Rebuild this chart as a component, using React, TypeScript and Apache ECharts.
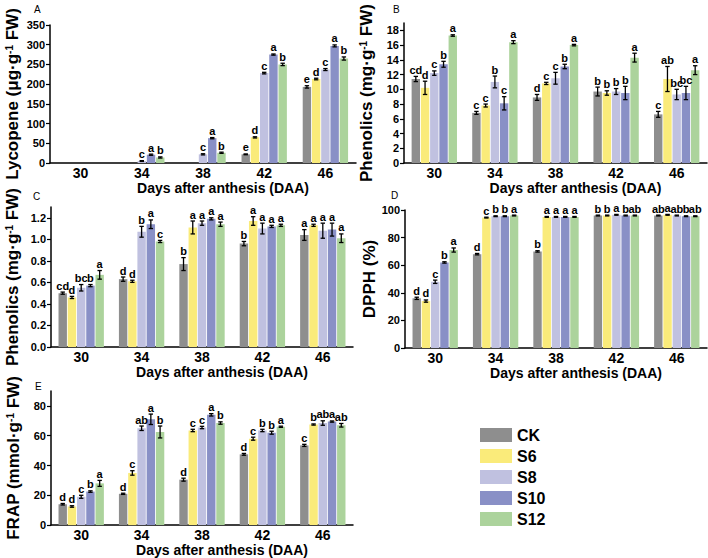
import React, { useEffect, useRef } from 'react';
import * as echarts from 'echarts';

const FONT = 'Arial, "Liberation Sans", Helvetica, sans-serif';

const categories = ['30', '34', '38', '42', '46'];
const treatments = ['CK', 'S6', 'S8', 'S10', 'S12'];
const colors = ['#8e8e8e', '#faeb7a', '#c0c1e0', '#8990c6', '#acd39c'];

// Panel A: Lycopene (rows = CK, S6, S8, S10, S12)
const lycopeneValues = [
  [0, 0, 0, 22, 193],
  [0, 0, 0, 65, 213],
  [0, 5, 22, 228, 237],
  [0, 21, 63, 275, 297],
  [0, 14, 26, 250, 265],
];
const lycopeneErrors = [
  [0, 0, 0, 1, 3],
  [0, 0, 0, 1.5, 2],
  [0, 1, 1.5, 2, 2.5],
  [0, 1.5, 1.5, 1.5, 2.5],
  [0, 1.5, 1.5, 3, 4],
];
const lycopeneLetters = [
  ['', '', '', 'e', 'e'],
  ['', '', '', 'd', 'd'],
  ['', 'c', 'c', 'c', 'c'],
  ['', 'a', 'a', 'a', 'a'],
  ['', 'b', 'b', 'b', 'b'],
];

// Panel B: Phenolics (mg/g FW)
const phenolicsBValues = [
  [11.4, 6.8, 8.9, 9.7, 6.6],
  [10.2, 7.8, 10.8, 9.5, 11.4],
  [12.2, 11.0, 11.5, 9.7, 9.3],
  [13.4, 8.1, 13.1, 9.5, 9.5],
  [17.3, 16.4, 16.0, 14.3, 12.6],
];
const phenolicsBErrors = [
  [0.35, 0.2, 0.4, 0.6, 0.4],
  [0.9, 0.2, 0.15, 0.3, 1.7],
  [0.3, 0.8, 0.8, 0.4, 0.7],
  [0.4, 0.9, 0.3, 0.9, 0.9],
  [0.1, 0.2, 0.1, 0.6, 0.6],
];
const phenolicsBLetters = [
  ['cd', 'c', 'd', 'b', 'c'],
  ['d', 'c', 'c', 'b', 'ab'],
  ['c', 'b', 'c', 'b', 'bc'],
  ['b', 'c', 'b', 'b', 'bc'],
  ['a', 'a', 'a', 'a', 'a'],
];

// Panel C: Phenolics (second measure)
const phenolicsCValues = [
  [0.50, 0.63, 0.77, 0.96, 1.04],
  [0.46, 0.61, 1.11, 1.17, 1.13],
  [0.55, 1.07, 1.15, 1.10, 1.08],
  [0.57, 1.14, 1.19, 1.12, 1.09],
  [0.67, 0.98, 1.14, 1.13, 1.01],
];
const phenolicsCErrors = [
  [0.01, 0.02, 0.06, 0.02, 0.05],
  [0.01, 0.01, 0.06, 0.04, 0.01],
  [0.03, 0.05, 0.02, 0.05, 0.07],
  [0.01, 0.04, 0.01, 0.01, 0.06],
  [0.04, 0.01, 0.02, 0.01, 0.04],
];
const phenolicsCLetters = [
  ['cd', 'd', 'b', 'b', 'a'],
  ['d', 'd', 'a', 'a', 'a'],
  ['bc', 'b', 'a', 'a', 'a'],
  ['b', 'a', 'a', 'a', 'a'],
  ['a', 'c', 'a', 'a', 'a'],
];

// Panel D: DPPH (%)
const dpphValues = [
  [36, 68, 70, 96, 96],
  [34, 94.5, 95, 96, 96.5],
  [48, 95.5, 95, 96.5, 96],
  [62, 95.5, 95, 96, 95.5],
  [71, 96, 95, 96, 95.5],
];
const dpphErrors = [
  [0.8, 0.5, 0.5, 0.3, 0.3],
  [0.8, 0.3, 0.3, 0.3, 0.3],
  [1.2, 0.3, 0.3, 0.3, 0.3],
  [0.5, 0.3, 0.3, 0.3, 0.3],
  [1.5, 0.3, 0.3, 0.3, 0.3],
];
const dpphLetters = [
  ['d', 'd', 'b', 'b', 'ab'],
  ['d', 'c', 'a', 'b', 'a'],
  ['c', 'b', 'a', 'a', 'ab'],
  ['b', 'b', 'a', 'b', 'b'],
  ['a', 'a', 'a', 'ab', 'ab'],
];

// Panel E: FRAP (mmol/g FW)
const frapValues = [
  [14, 21, 30.5, 47.5, 53.5],
  [12.5, 35, 63.5, 58, 67.5],
  [19, 65, 65.5, 63.5, 68.5],
  [22.5, 71, 74, 62, 69.5],
  [28, 62.5, 68.5, 66, 67],
];
const frapErrors = [
  [0.5, 0.4, 1, 0.6, 0.7],
  [0.5, 1.5, 0.8, 1, 0.4],
  [1, 1.5, 0.8, 0.8, 1.5],
  [0.5, 3.5, 0.8, 1, 0.4],
  [2, 4, 0.8, 0.4, 1.2],
];
const frapLetters = [
  ['d', 'd', 'd', 'd', 'c'],
  ['d', 'c', 'c', 'c', 'b'],
  ['c', 'ab', 'c', 'b', 'ab'],
  ['b', 'a', 'a', 'b', 'a'],
  ['a', 'b', 'b', 'a', 'ab'],
];

const BAR_W = 8.4;
const BAR_GAP = 0.1;
const STEP = BAR_W * (1 + BAR_GAP);

const panels = [
  {
    letter: 'A', lx: 34, ly: 4,
    values: lycopeneValues, errors: lycopeneErrors, letters: lycopeneLetters,
    grid: { left: 50, top: 25, width: 306, height: 138 },
    max: 350, interval: 50, showMax: true, decimals: 0,
    name: '{t|Lycopene (μg·g}{s|-1}{t| FW)}', nameGap: 29,
  },
  {
    letter: 'B', lx: 393, ly: 4,
    values: phenolicsBValues, errors: phenolicsBErrors, letters: phenolicsBLetters,
    grid: { left: 404, top: 23, width: 303, height: 140 },
    max: 19, interval: 2, showMax: false, decimals: 0,
    name: '{t|Phenolics (mg·g}{s|-1}{t| FW)}', nameGap: 29,
  },
  {
    letter: 'C', lx: 33, ly: 191,
    values: phenolicsCValues, errors: phenolicsCErrors, letters: phenolicsCLetters,
    grid: { left: 51, top: 207, width: 302, height: 140 },
    max: 1.3, interval: 0.2, showMax: false, decimals: 1,
    name: '{t|Phenolics (mg·g}{s|-1}{t| FW)}', nameGap: 30,
  },
  {
    letter: 'D', lx: 391, ly: 190,
    values: dpphValues, errors: dpphErrors, letters: dpphLetters,
    grid: { left: 405, top: 210, width: 302, height: 138 },
    max: 100, interval: 20, showMax: true, decimals: 0,
    name: '{t|DPPH (%)}', nameGap: 21,
  },
  {
    letter: 'E', lx: 35, ly: 381,
    values: frapValues, errors: frapErrors, letters: frapLetters,
    grid: { left: 51, top: 391, width: 302, height: 139 },
    max: 90, interval: 20, showMax: false, decimals: 0,
    name: '{t|FRAP (mmol·g}{s|-1}{t| FW)}', nameGap: 29,
  },
];

export default function App() {
  const ref = useRef<HTMLDivElement>(null);

  useEffect(() => {
    if (!ref.current) return;
    const chart = echarts.init(ref.current, undefined, { renderer: 'svg' });

    const grids: any[] = [];
    const xAxes: any[] = [];
    const yAxes: any[] = [];
    const series: any[] = [];
    const graphics: any[] = [];

    panels.forEach((p, pi) => {
      grids.push({ ...p.grid, containLabel: false });
      xAxes.push({
        type: 'category',
        gridIndex: pi,
        data: categories,
        axisLine: { show: true, lineStyle: { color: '#000', width: 1.5 } },
        axisTick: { show: false },
        axisLabel: { color: '#000', fontSize: 14, fontWeight: 'bold', fontFamily: FONT, margin: 3 },
        name: 'Days after anthesis (DAA)',
        nameLocation: 'middle',
        nameGap: 14,
        nameTextStyle: { color: '#000', fontSize: 14, fontWeight: 'bold', fontFamily: FONT, padding: [0, 0, 0, 40] },
      });
      yAxes.push({
        type: 'value',
        gridIndex: pi,
        min: 0,
        max: p.max,
        interval: p.interval,
        splitLine: { show: false },
        axisLine: { show: true, lineStyle: { color: '#000', width: 1.5 } },
        axisTick: { show: true, length: 4, lineStyle: { color: '#000', width: 1.2 } },
        axisLabel: {
          color: '#000', fontSize: 11, fontWeight: 'bold', fontFamily: FONT, margin: 5,
          showMaxLabel: p.showMax,
          formatter: (v: number) => v.toFixed(p.decimals),
        },
        name: p.name,
        nameLocation: 'middle',
        nameGap: p.nameGap,
        nameTextStyle: {
          color: '#000',
          rich: {
            t: { fontSize: 17, fontWeight: 'bold', fontFamily: FONT, color: '#000' },
            s: { fontSize: 10, fontWeight: 'bold', fontFamily: FONT, color: '#000', verticalAlign: 'top' },
          },
        },
      });

      treatments.forEach((t, ti) => {
        series.push({
          type: 'bar',
          name: t,
          xAxisIndex: pi,
          yAxisIndex: pi,
          data: p.values[ti],
          barWidth: BAR_W,
          barGap: `${BAR_GAP * 100}%`,
          itemStyle: { color: colors[ti] },
          emphasis: { disabled: true },
        });
      });

      const items: any[] = [];
      treatments.forEach((t, ti) => {
        categories.forEach((c, ci) => {
          items.push({ t: ti, c: ci, v: p.values[ti][ci], e: p.errors[ti][ci], l: p.letters[ti][ci] });
        });
      });

      series.push({
        type: 'custom',
        xAxisIndex: pi,
        yAxisIndex: pi,
        silent: true,
        z: 5,
        data: items.map((it) => [it.c, it.v + it.e]),
        encode: { x: 0, y: 1 },
        renderItem: (params: any, api: any) => {
          const it = items[params.dataIndex];
          if (!it || it.v <= 0) return { type: 'group', children: [] };
          const top = api.coord([it.c, it.v + it.e]);
          const bot = api.coord([it.c, Math.max(0, it.v - it.e)]);
          const x = top[0] + (it.t - 2) * STEP;
          const capW = 2.2;
          const ls = { stroke: '#000', lineWidth: 1.3 };
          const children: any[] = [
            { type: 'line', shape: { x1: x, y1: top[1], x2: x, y2: bot[1] }, style: ls },
            { type: 'line', shape: { x1: x - capW, y1: top[1], x2: x + capW, y2: top[1] }, style: ls },
            { type: 'line', shape: { x1: x - capW, y1: bot[1], x2: x + capW, y2: bot[1] }, style: ls },
          ];
          if (it.l) {
            children.push({
              type: 'text',
              style: {
                text: it.l,
                x,
                y: top[1] - 1,
                align: 'center',
                verticalAlign: 'bottom',
                fontSize: 11,
                fontWeight: 'bold',
                fontFamily: FONT,
                fill: '#000',
              },
            });
          }
          return { type: 'group', children };
        },
      });

      graphics.push({
        type: 'text',
        left: p.lx,
        top: p.ly,
        style: { text: p.letter, fontSize: 10, fontFamily: FONT, fill: '#000' },
      });
    });

    chart.setOption({
      animation: false,
      backgroundColor: '#fff',
      grid: grids,
      xAxis: xAxes,
      yAxis: yAxes,
      series,
      graphic: graphics,
      legend: {
        data: treatments,
        orient: 'vertical',
        left: 475,
        top: 422,
        itemWidth: 32,
        itemHeight: 14,
        itemGap: 5,
        icon: 'rect',
        selectedMode: false,
        textStyle: { color: '#000', fontSize: 16, fontWeight: 'bold', fontFamily: FONT, lineHeight: 14 },
      },
    });

    return () => chart.dispose();
  }, []);

  return (
    <div
      ref={ref}
      style={{ position: 'absolute', left: 0, top: 0, width: 708, height: 558, background: '#fff' }}
    />
  );
}
